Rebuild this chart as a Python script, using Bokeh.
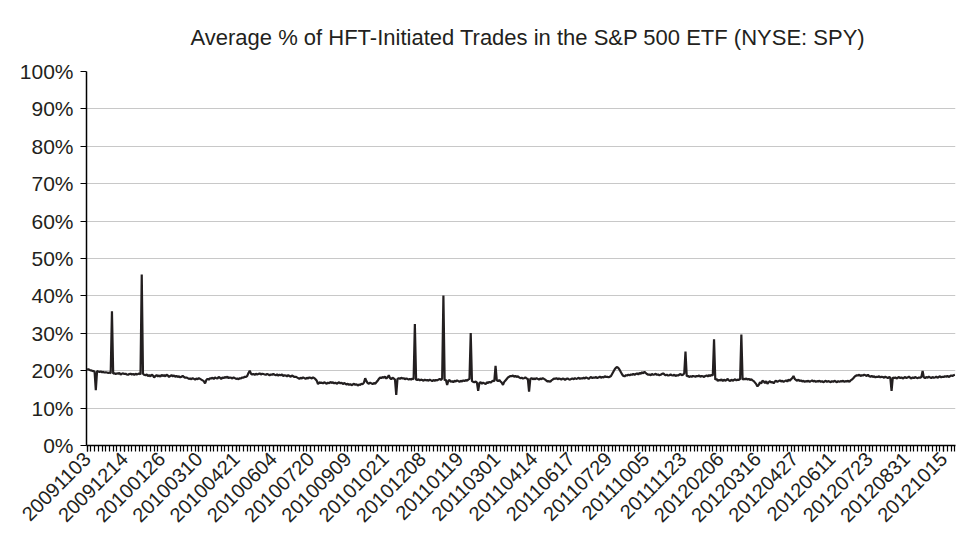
import math
from bokeh.plotting import figure
from bokeh.models import Range1d, FixedTicker, ColumnDataSource, Title
from bokeh.embed import file_html
from bokeh.resources import INLINE

title_text = "Average % of HFT-Initiated Trades in the S&P 500 ETF (NYSE: SPY)"

date_labels = ["20091103", "20091214", "20100126", "20100310", "20100421", "20100604",
               "20100720", "20100909", "20101021", "20101208", "20110119", "20110301",
               "20110414", "20110617", "20110729", "20111005", "20111123", "20120206",
               "20120316", "20120427", "20120611", "20120723", "20120831", "20121015"]
label_step = 30

hft_pct = [
    20.3,20.4,20.2,20.1,20.0,19.9,19.8,14.8,19.9,19.8,
    19.7,19.8,19.6,19.7,19.5,19.6,19.5,19.4,19.5,19.3,
    35.9,19.2,19.4,19.1,19.3,19.2,19.4,19.0,19.2,19.3,
    19.1,19.2,19.0,18.9,19.1,19.2,19.0,19.1,18.9,19.2,
    19.0,19.1,19.3,19.0,45.7,19.2,18.9,18.8,19.0,18.6,
    18.8,18.5,18.9,18.7,18.2,18.6,18.8,18.5,18.7,18.4,
    18.9,18.6,18.8,18.5,18.9,18.7,18.3,18.6,18.8,18.5,
    18.7,18.4,18.6,18.3,18.5,18.2,18.4,18.6,18.3,18.1,
    18.2,18.0,17.8,17.9,17.7,18.0,17.8,17.6,17.9,17.7,
    18.0,17.8,17.6,17.4,17.2,16.6,17.5,17.8,17.6,18.0,
    17.9,18.1,17.8,18.2,18.0,17.9,18.3,18.1,17.8,18.2,
    18.0,18.3,18.1,18.4,18.0,18.2,18.1,17.9,18.2,18.0,
    17.8,17.9,17.7,18.0,17.9,18.2,18.1,18.4,18.3,18.6,
    19.4,20.0,19.2,19.0,19.1,18.9,19.2,19.0,19.1,19.3,
    19.0,19.2,19.1,19.0,18.9,19.1,19.0,18.8,19.0,18.9,
    19.1,18.9,18.8,19.0,18.7,18.9,18.8,19.0,18.6,18.8,
    18.7,18.5,18.8,18.6,18.4,18.7,18.5,18.3,18.4,18.2,
    18.0,17.8,18.1,17.9,18.2,18.0,17.8,18.1,17.9,18.2,
    18.1,17.9,18.2,18.0,17.7,17.3,16.4,16.9,16.7,16.8,
    16.6,16.9,16.7,16.5,16.8,16.6,17.0,16.7,16.9,16.6,
    16.8,16.5,16.7,16.9,16.6,16.8,16.4,16.7,16.5,16.3,
    16.5,16.2,16.4,16.1,16.3,16.5,16.2,16.4,16.0,16.3,
    16.2,16.5,16.4,16.8,18.0,17.2,16.7,16.5,16.8,16.6,
    16.4,16.7,16.5,16.9,17.3,17.8,18.2,18.0,18.3,18.1,
    18.4,17.9,18.2,18.8,18.0,17.7,18.1,17.9,17.6,13.5,
    17.8,18.0,17.8,18.1,17.9,18.0,17.7,17.9,17.8,17.6,
    17.8,17.6,17.9,17.7,32.5,17.6,17.5,17.7,17.4,17.6,
    17.5,17.3,17.6,17.4,17.5,17.3,17.6,17.4,17.2,17.5,
    17.3,17.5,17.4,17.6,17.8,17.5,17.9,40.1,17.4,17.6,
    16.2,17.3,17.5,17.0,17.2,16.9,17.3,17.1,17.4,17.2,
    17.0,17.3,17.1,17.4,17.2,17.5,17.3,17.6,17.8,30.1,
    17.2,17.0,16.9,17.1,16.8,14.6,16.7,16.9,16.5,16.8,
    16.6,16.4,16.9,16.7,17.0,16.8,17.1,17.3,17.2,21.3,
    17.4,17.2,17.5,17.1,16.8,16.2,17.0,17.4,17.8,18.2,
    18.4,18.6,18.5,18.7,18.4,18.6,18.3,18.5,18.2,18.0,
    18.1,17.9,18.0,18.2,17.9,17.8,14.4,17.8,18.0,17.7,
    17.9,17.7,18.0,17.8,17.6,17.9,17.7,18.0,17.8,17.6,
    17.3,17.1,17.2,17.0,17.4,17.6,17.9,17.8,18.0,17.7,
    17.9,17.8,17.6,17.9,17.8,17.5,17.8,17.9,17.7,17.6,
    17.8,17.9,17.7,18.0,17.8,17.9,18.1,17.8,18.0,17.9,
    18.1,17.9,18.2,18.0,17.8,18.1,18.3,18.0,18.2,18.1,
    18.3,18.0,18.2,18.4,18.1,18.3,18.2,18.5,18.3,18.4,
    18.2,18.4,18.6,19.2,19.8,20.4,20.8,21.0,20.7,20.2,
    19.6,19.0,18.6,18.5,18.8,18.7,18.9,18.8,19.0,18.9,
    19.2,18.9,19.1,19.3,19.0,19.4,19.2,19.6,19.3,19.7,
    19.4,19.1,18.9,19.0,18.8,19.1,18.9,19.0,19.2,18.9,
    19.0,18.8,18.9,19.1,19.3,19.0,18.8,18.9,18.7,18.8,
    19.0,18.8,18.7,18.9,18.6,18.8,18.7,18.9,19.1,18.8,
    18.9,19.3,25.1,18.5,18.6,18.3,18.5,18.4,18.6,18.5,
    18.4,18.6,18.5,18.7,18.4,18.6,18.5,18.3,18.6,18.7,
    18.5,18.8,18.6,18.9,18.7,28.4,17.6,17.8,17.3,17.5,
    17.4,17.7,17.2,17.6,17.3,17.5,17.8,17.4,17.2,17.6,
    17.3,17.5,17.7,17.4,17.6,17.5,17.8,29.7,17.6,17.8,
    17.7,17.9,17.6,17.8,17.5,17.7,17.4,17.2,16.8,16.4,
    15.8,16.2,16.9,16.6,17.3,17.1,16.7,17.2,16.5,16.9,
    17.2,16.8,17.0,16.6,17.1,17.3,17.0,17.2,17.4,17.1,
    17.3,17.0,17.2,17.4,17.1,17.6,17.3,17.7,18.0,18.6,
    17.8,17.5,17.3,17.6,17.2,17.4,17.1,17.3,17.0,17.2,
    17.1,17.3,17.0,17.2,17.4,17.1,17.3,17.0,17.2,17.1,
    17.3,17.0,17.2,16.9,17.1,17.3,17.0,17.2,17.1,16.9,
    17.2,17.0,17.3,17.1,16.9,17.2,17.0,17.2,17.1,17.3,
    17.0,17.2,17.1,17.3,17.0,17.4,17.6,17.9,18.3,18.6,
    18.8,18.7,18.9,18.6,18.8,18.7,18.9,18.8,18.6,18.9,
    18.5,18.4,18.6,18.3,18.5,18.2,18.4,18.3,18.5,18.2,
    18.4,18.3,18.1,18.4,18.2,18.0,18.3,18.1,14.6,18.2,
    18.0,18.2,17.9,18.1,18.3,18.0,18.2,17.9,18.1,18.3,
    18.0,18.2,18.4,18.1,17.9,18.2,18.0,18.3,18.1,18.0,
    18.2,18.1,18.3,19.9,18.2,18.0,18.3,18.1,18.4,18.2,
    18.0,18.3,18.1,18.2,18.4,18.1,18.3,18.5,18.2,18.4,
    18.3,18.5,18.4,18.6,18.3,18.5,18.7,18.6,18.8,18.9,
]

y_ticks = [0, 10, 20, 30, 40, 50, 60, 70, 80, 90, 100]

n = len(hft_pct)
idx = list(range(n))
src = ColumnDataSource(data=dict(x=idx, y=hft_pct))

TXT = "#231f20"
FONT = "Liberation Sans"

p = figure(width=960, height=538, output_backend="svg", toolbar_location=None,
           x_range=Range1d(-0.5, n - 0.5), y_range=Range1d(0, 100),
           min_border_left=86, min_border_right=5, min_border_top=71, min_border_bottom=93)
p.title = Title(text=title_text, align="left", offset=104, standoff=40,
                vertical_align="top", text_font=FONT,
                text_font_size="22px", text_font_style="normal", text_color=TXT)
p.outline_line_color = None
p.background_fill_color = "white"
p.border_fill_color = "white"

p.line("x", "y", source=src, line_color=TXT, line_width=2.2)

label_pos = [i * label_step for i in range(len(date_labels))]
p.xaxis.ticker = FixedTicker(ticks=label_pos, minor_ticks=list(range(0, n, 3)))
p.xaxis.major_label_overrides = {pos: lbl for pos, lbl in zip(label_pos, date_labels)}
p.xaxis.major_label_orientation = math.pi / 4
p.xaxis.major_label_text_font = FONT
p.xaxis.major_label_text_font_size = "20px"
p.xaxis.major_label_text_color = TXT
p.xaxis.axis_line_color = "black"
p.xaxis.axis_line_width = 1.5
p.xaxis.major_tick_in = 0
p.xaxis.major_tick_out = 6
p.xaxis.minor_tick_in = 0
p.xaxis.minor_tick_out = 6
p.xaxis.major_tick_line_color = "black"
p.xaxis.minor_tick_line_color = "black"
p.xaxis.major_tick_line_width = 1.2
p.xaxis.minor_tick_line_width = 1.2
p.xaxis.major_label_standoff = 4

p.yaxis.ticker = FixedTicker(ticks=y_ticks)
p.yaxis.major_label_overrides = {t: f"{t}%" for t in y_ticks}
p.yaxis.major_label_text_font = FONT
p.yaxis.major_label_text_font_size = "21px"
p.yaxis.major_label_text_color = TXT
p.yaxis.axis_line_color = "black"
p.yaxis.axis_line_width = 1.5
p.yaxis.major_tick_in = 0
p.yaxis.major_tick_out = 6
p.yaxis.minor_tick_line_color = None
p.yaxis.major_tick_line_color = "black"
p.yaxis.major_label_standoff = 7

p.xgrid.grid_line_color = None
p.ygrid.ticker = FixedTicker(ticks=y_ticks)
p.ygrid.grid_line_color = "#c8c8c8"
p.ygrid.grid_line_width = 1

open("out.html", "w").write(file_html(p, INLINE))
